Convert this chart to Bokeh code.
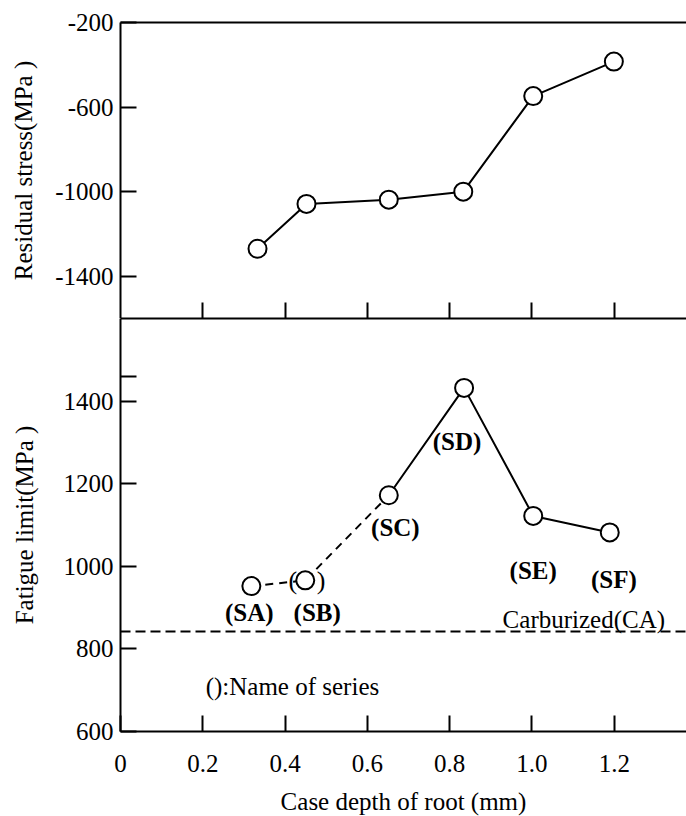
from bokeh.plotting import figure
from bokeh.models import FixedTicker, LinearAxis, Span, Range1d, CustomLabelingPolicy
from bokeh.layouts import column
from bokeh.embed import file_html
from bokeh.resources import INLINE
from bokeh.core.properties import value

FONT = "Liberation Serif"

# ---- data: top panel (residual stress) ----
depth_top = [0.333, 0.452, 0.652, 0.833, 1.003, 1.199]
residual_stress = [-1270, -1058, -1038, -1000, -548, -385]

# ---- data: bottom panel (fatigue limit) ----
series = ["SA", "SB", "SC", "SD", "SE", "SF"]
depth_bottom = [0.318, 0.449, 0.652, 0.835, 1.003, 1.189]
fatigue_limit = [952, 966, 1172, 1432, 1122, 1082]
carburized_limit = 842

label_text = ["(SA)", "(SB)", "(SC)", "(SD)", "(SE)", "(SF)"]
label_x = [0.313, 0.478, 0.668, 0.818, 1.003, 1.199]
label_y = [887, 887, 1094, 1301, 990, 968]

x_ticks = [0, 0.2, 0.4, 0.6, 0.8, 1.0, 1.2]
x_tick_labels = ["0", "0.2", "0.4", "0.6", "0.8", "1.0", "1.2"]
top_y_ticks = [-1400, -1000, -600, -200]
top_y_labels = ["-1400", "-1000", "-600", "-200"]
bottom_y_ticks = [600, 800, 1000, 1200, 1400, 1460]
bottom_y_labels = ["600", "800", "1000", "1200", "1400", ""]

X_MAX = 1.3755

# labeling policies: hide every label / hide the unlabeled extra tick
NO_LABELS = CustomLabelingPolicy(code="""
for (const i of indices) { indices.unset(i) }
return indices
""")
HIDE_LAST = CustomLabelingPolicy(code="""
for (const i of indices) { if (i == 5) indices.unset(i) }
return indices
""")


def style_axis(ax, tick_in=16, standoff=7, label_size="25px"):
    ax.major_tick_in = tick_in
    ax.major_tick_out = 0
    ax.minor_tick_in = 0
    ax.minor_tick_out = 0
    ax.axis_line_width = 2
    ax.axis_line_color = "black"
    ax.major_tick_line_width = 2
    ax.major_tick_line_color = "black"
    ax.major_label_text_font = FONT
    ax.major_label_text_font_size = label_size
    ax.major_label_text_color = "black"
    ax.major_label_standoff = standoff
    ax.axis_label_text_font = FONT
    ax.axis_label_text_font_size = "25px"
    ax.axis_label_text_font_style = "normal"
    ax.axis_label_text_color = "black"


# ---------------- top figure ----------------
top = figure(frame_width=566, frame_height=296,
             min_border_left=120, min_border_right=0,
             min_border_top=22, min_border_bottom=0,
             x_range=Range1d(0, X_MAX), y_range=Range1d(-1600, -200),
             x_axis_location=None, y_axis_location=None,
             output_backend="svg", toolbar_location=None)
top.outline_line_color = None
top.grid.visible = False
top.background_fill_color = "white"
top.border_fill_color = "white"

ly = LinearAxis(ticker=FixedTicker(ticks=top_y_ticks), axis_label="Residual stress(MPa )")
style_axis(ly)
ly.major_label_overrides = {t: s for t, s in zip(top_y_ticks, top_y_labels)}
ly.axis_label_standoff = 15
top.add_layout(ly, "left")

bx = LinearAxis(ticker=FixedTicker(ticks=x_ticks[1:]), major_label_policy=NO_LABELS)
style_axis(bx, standoff=0, label_size="0px")
top.add_layout(bx, "below")

tx = LinearAxis(ticker=FixedTicker(ticks=[]), major_label_policy=NO_LABELS)
style_axis(tx, tick_in=0, standoff=0, label_size="0px")
top.add_layout(tx, "above")

top.line(depth_top, residual_stress, line_color="black", line_width=2)
top.scatter(depth_top, residual_stress, marker="circle", size=18,
            fill_color="white", line_color="black", line_width=2)

# ---------------- bottom figure ----------------
bot = figure(frame_width=566, frame_height=413,
             min_border_left=120, min_border_right=0,
             min_border_top=0, min_border_bottom=85,
             x_range=top.x_range, y_range=Range1d(600, 1600),
             x_axis_location=None, y_axis_location=None,
             output_backend="svg", toolbar_location=None)
bot.outline_line_color = None
bot.grid.visible = False
bot.background_fill_color = "white"
bot.border_fill_color = "white"

ly2 = LinearAxis(ticker=FixedTicker(ticks=bottom_y_ticks), axis_label="Fatigue limit(MPa )",
                 major_label_policy=HIDE_LAST)
style_axis(ly2)
ly2.major_label_overrides = {t: s for t, s in zip(bottom_y_ticks, bottom_y_labels)}
ly2.axis_label_standoff = 23
bot.add_layout(ly2, "left")

bx2 = LinearAxis(ticker=FixedTicker(ticks=x_ticks), axis_label="Case depth of root (mm)")
style_axis(bx2, standoff=23)
bx2.major_label_overrides = {t: s for t, s in zip(x_ticks, x_tick_labels)}
bx2.axis_label_standoff = 13
bot.add_layout(bx2, "below")

tx2 = LinearAxis(ticker=FixedTicker(ticks=[]), major_label_policy=NO_LABELS)
style_axis(tx2, tick_in=0, standoff=0, label_size="0px")
bot.add_layout(tx2, "above")

bot.add_layout(Span(location=carburized_limit, dimension="width",
                    line_color="black", line_width=2, line_dash="10 5"))

# dashed part: SA - SB - SC ; solid part: SC - SD - SE - SF
bot.line(depth_bottom[:3], fatigue_limit[:3], line_color="black", line_width=2, line_dash="8 6")
bot.line(depth_bottom[2:], fatigue_limit[2:], line_color="black", line_width=2)
bot.scatter(depth_bottom, fatigue_limit, marker="circle", size=18,
            fill_color="white", line_color="black", line_width=2)

# parentheses drawn around the SB marker
bot.text(x=[depth_bottom[1] + 0.004], y=[fatigue_limit[1]], text=["(\u00a0\u00a0\u00a0)"],
         text_font=value(FONT), text_font_size="26px",
         text_align="center", text_baseline="middle", text_color="black")

bot.text(x=label_x, y=label_y, text=label_text,
         text_font=value(FONT), text_font_size="25px", text_font_style="bold",
         text_align="center", text_baseline="middle", text_color="black")

bot.text(x=[1.126], y=[870], text=["Carburized(CA)"],
         text_font=value(FONT), text_font_size="25px",
         text_align="center", text_baseline="middle", text_color="black")
bot.text(x=[0.207], y=[708], text=["():Name of series"],
         text_font=value(FONT), text_font_size="25px",
         text_align="left", text_baseline="middle", text_color="black")

layout = column(top, bot)
open("out.html", "w").write(file_html(layout, INLINE))
